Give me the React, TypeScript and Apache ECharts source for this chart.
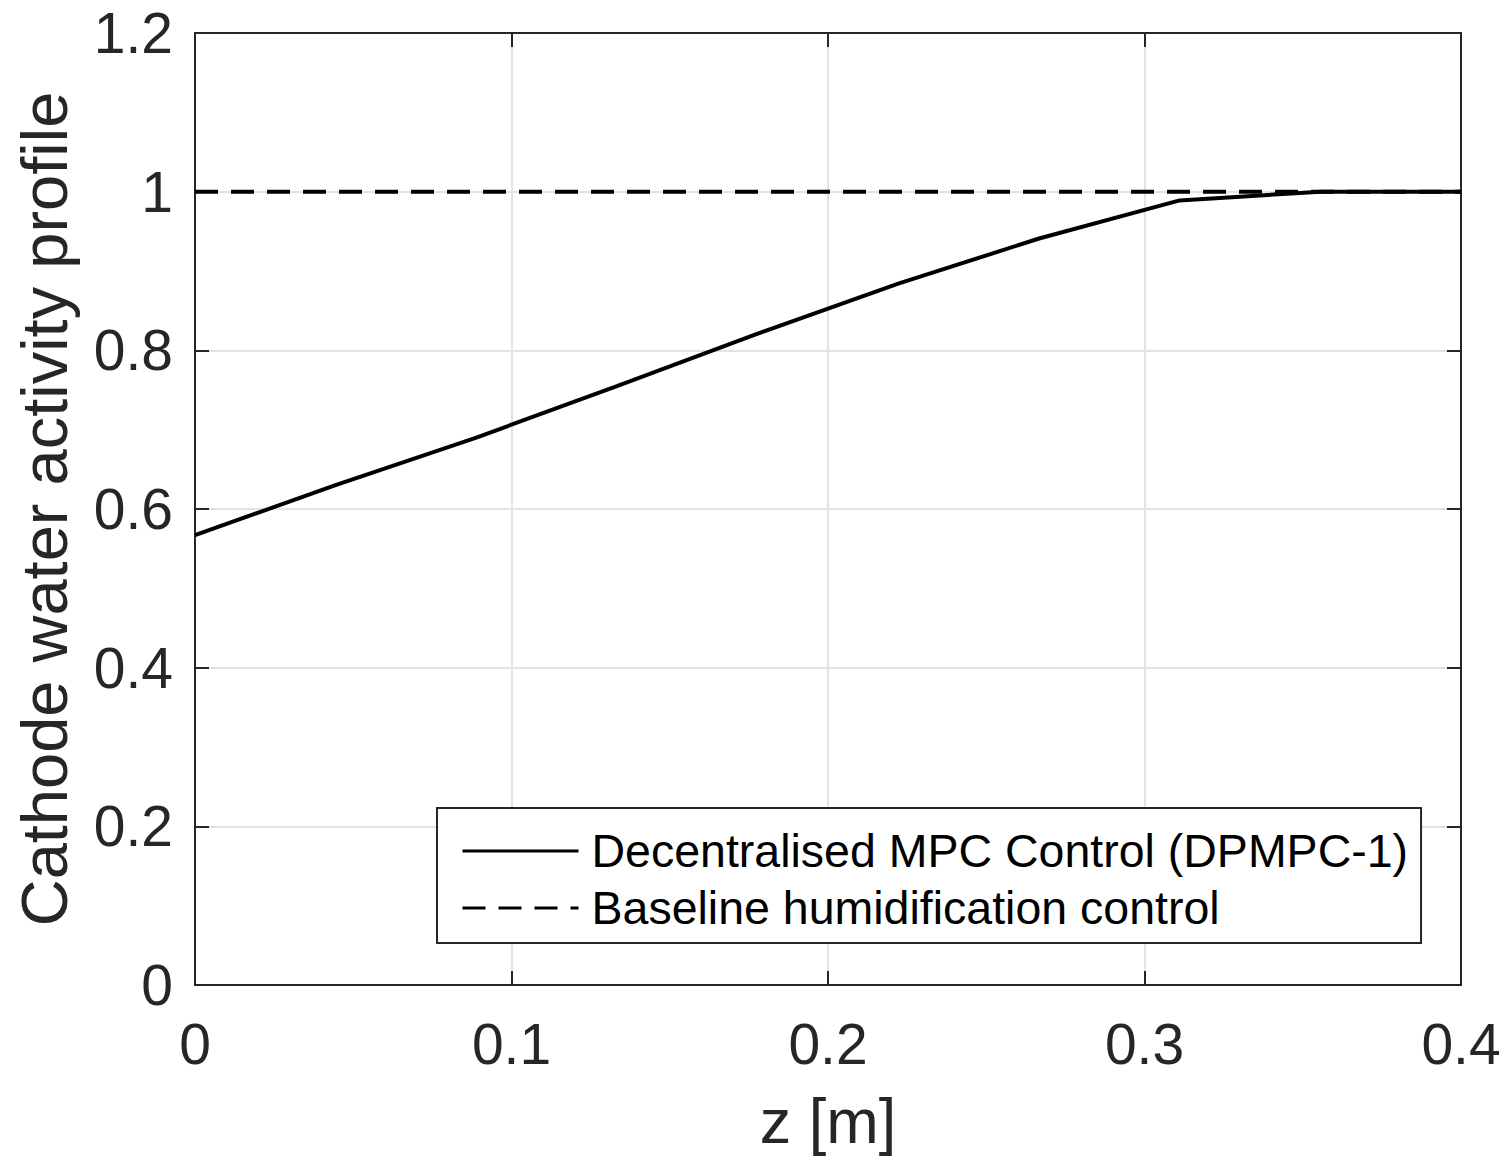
import React, { useEffect, useRef } from "react";
import * as echarts from "echarts";

const zPositions = [0, 0.0444, 0.0889, 0.1333, 0.1778, 0.2222, 0.2667, 0.3111, 0.3556, 0.4];
const mpcActivity = [0.567, 0.630, 0.690, 0.755, 0.821, 0.884, 0.941, 0.989, 1.0, 1.0];
const baselineZ = [0, 0.4];
const baselineActivity = [1, 1];
const seriesNames = ["Decentralised MPC Control (DPMPC-1)", "Baseline humidification control"];
const xAxisTitle = "z [m]";
const yAxisTitle = "Cathode water activity profile";

const FONT = "'Liberation Sans', Arial, Helvetica, sans-serif";
const INK = "#262626";

export default function App() {
  const ref = useRef<HTMLDivElement>(null);
  useEffect(() => {
    if (!ref.current) return;
    const chart = echarts.init(ref.current, undefined, { renderer: "svg" });
    const mpcData = zPositions.map((z, i) => [z, mpcActivity[i]]);
    const baseData = baselineZ.map((z, i) => [z, baselineActivity[i]]);
    const tickStyle = { show: true, inside: true, length: 14, lineStyle: { color: INK, width: 2 } };
    chart.setOption({
      animation: false,
      backgroundColor: "#ffffff",
      grid: { left: 195, right: 46, top: 33, bottom: 182, containLabel: false },
      legend: {
        orient: "vertical",
        left: 437,
        top: 808,
        padding: [18, 13, 10, 24],
        itemGap: 7,
        itemWidth: 116,
        itemHeight: 20,
        borderColor: INK,
        borderWidth: 2,
        backgroundColor: "#ffffff",
        itemStyle: { color: "rgba(0,0,0,0)", borderWidth: 0, opacity: 0 },
        lineStyle: { width: 3, color: "#000" },
        textStyle: { fontFamily: FONT, fontSize: 46.5, color: "#000", lineHeight: 50, padding: [0, 0, 0, 8] },
        data: seriesNames,
      },
      xAxis: [
        {
          type: "value",
          min: 0,
          max: 0.4,
          interval: 0.1,
          name: xAxisTitle,
          nameLocation: "middle",
          nameGap: 104,
          nameTextStyle: { fontFamily: FONT, fontSize: 63, color: INK },
          axisLine: { show: true, onZero: false, lineStyle: { color: INK, width: 2 } },
          axisTick: tickStyle,
          axisLabel: { fontFamily: FONT, fontSize: 57, color: INK, margin: 30 },
          splitLine: { show: true, lineStyle: { color: "#e3e3e3", width: 2 } },
        },
        {
          type: "value",
          position: "top",
          min: 0,
          max: 0.4,
          interval: 0.1,
          axisLine: { show: true, onZero: false, lineStyle: { color: INK, width: 2 } },
          axisTick: tickStyle,
          axisLabel: { show: false },
          splitLine: { show: false },
        },
      ],
      yAxis: [
        {
          type: "value",
          min: 0,
          max: 1.2,
          interval: 0.2,
          name: yAxisTitle,
          nameLocation: "middle",
          nameGap: 118,
          nameTextStyle: { fontFamily: FONT, fontSize: 65, color: INK },
          axisLine: { show: true, onZero: false, lineStyle: { color: INK, width: 2 } },
          axisTick: tickStyle,
          axisLabel: { fontFamily: FONT, fontSize: 57, color: INK, margin: 22 },
          splitLine: { show: true, lineStyle: { color: "#e3e3e3", width: 2 } },
        },
        {
          type: "value",
          position: "right",
          min: 0,
          max: 1.2,
          interval: 0.2,
          axisLine: { show: true, onZero: false, lineStyle: { color: INK, width: 2 } },
          axisTick: tickStyle,
          axisLabel: { show: false },
          splitLine: { show: false },
        },
      ],
      series: [
        {
          name: seriesNames[0],
          type: "line",
          data: mpcData,
          symbol: "none",
          z: 3,
          lineStyle: { color: "#000", width: 4 },
          itemStyle: { color: "#000" },
        },
        {
          name: seriesNames[1],
          type: "line",
          data: baseData,
          symbol: "none",
          z: 2,
          lineStyle: { color: "#000", width: 4, type: [23, 13] },
          itemStyle: { color: "#000" },
        },
      ],
    });
    return () => chart.dispose();
  }, []);
  return (
    <div
      ref={ref}
      style={{ position: "absolute", left: 0, top: 0, width: 1507, height: 1167, background: "#fff" }}
    />
  );
}
